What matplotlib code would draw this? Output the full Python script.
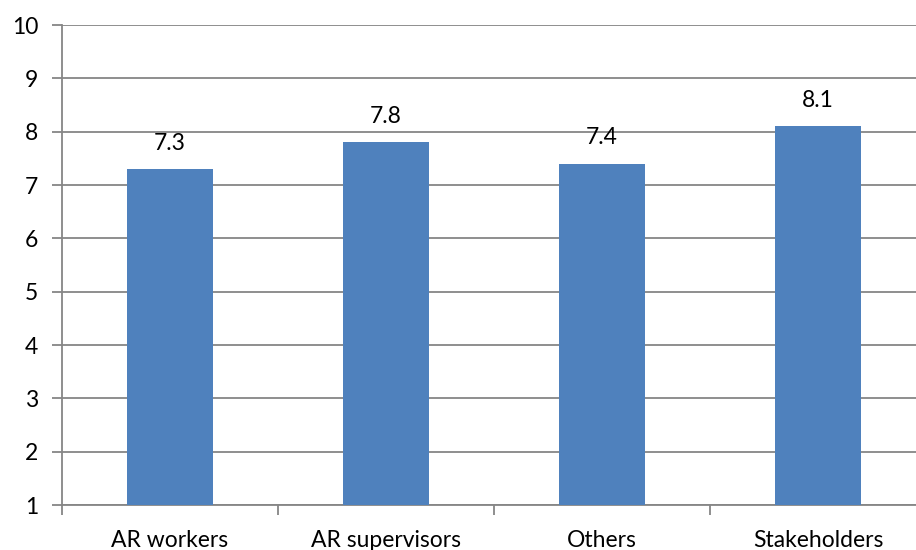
import numpy as np
from matplotlib import pyplot as plt

categories = ["AR workers", "AR supervisors", "Others", "Stakeholders"]
values = [7.3, 7.8, 7.4, 8.1]
yticks = [1, 2, 3, 4, 5, 6, 7, 8, 9, 10]

plt.rcParams["font.family"] = ["Lato", "DejaVu Sans"]
grey = "#868686"
fs = 16.5

fig = plt.figure(figsize=(9.16, 5.5), dpi=100)
# plot area runs past the right edge, as in the original
ax = fig.add_axes([62 / 916, 45 / 550, 864 / 916, 480 / 550])

X = np.arange(len(categories))
ax.bar(X, [v - 1 for v in values], bottom=1, width=0.4, color="#4F81BD", zorder=3)
for x, v in zip(X, values):
    ax.annotate(f"{v:.1f}", (x, v), xytext=(0, 11), textcoords="offset points",
                ha="center", va="bottom", fontsize=fs)

ax.set_xlim(-0.5, len(categories) - 0.5)
ax.set_ylim(1, 10)
ax.set_yticks(yticks)
ax.set_yticklabels([str(t) for t in yticks], fontsize=fs)
ax.yaxis.grid(True, color=grey, linewidth=1.3)
ax.set_axisbelow(True)

ax.set_xticks(X)
ax.set_xticklabels(categories, fontsize=fs)
ax.tick_params(axis="x", length=0, pad=18)
ax.set_xticks(np.arange(-0.5, len(categories) + 0.5, 1), minor=True)
ax.tick_params(axis="x", which="minor", length=7, color=grey, width=1.3)
ax.tick_params(axis="y", length=7, color=grey, width=1.3, pad=10)

for s in ["top", "right"]:
    ax.spines[s].set_visible(False)
for s in ["left", "bottom"]:
    ax.spines[s].set_color(grey)
    ax.spines[s].set_linewidth(1.3)

fig.savefig("out.png", dpi=100)
